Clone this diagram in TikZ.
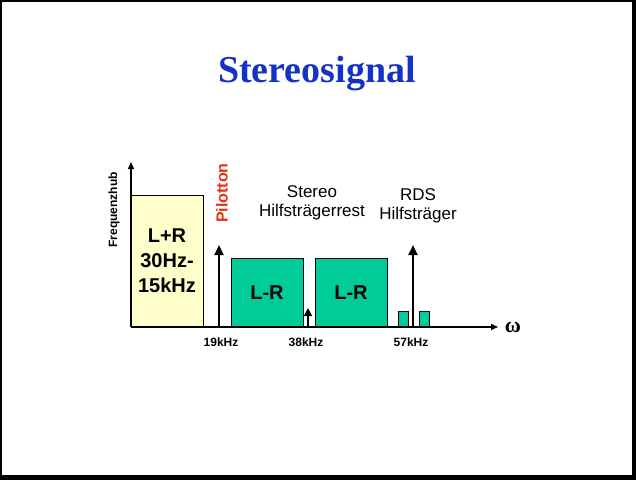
\documentclass[tikz,border=0pt]{standalone}
\usepackage{fontspec}
\setmainfont{Liberation Sans}
\newfontfamily\titleserif{Liberation Serif}
\usetikzlibrary{arrows.meta}
\definecolor{titleblue}{RGB}{20,50,200}
\definecolor{diffgreen}{RGB}{0,204,153}
\definecolor{sumyellow}{RGB}{255,255,204}
\definecolor{pilotred}{RGB}{230,50,20}
\tikzstyle{band}=[rectangle, draw=black, line width=1pt, inner sep=0pt, align=center, font=\fontsize{20}{25}\selectfont\bfseries]
\tikzstyle{axis}=[draw=black, line width=1.5pt, -{Triangle[length=7pt,width=6pt]}]
\tikzstyle{carrier}=[draw=black, line width=2pt, -{Triangle[length=10pt,width=9pt]}]
\tikzstyle{freq}=[inner sep=0pt, font=\fontsize{12}{12}\selectfont\bfseries]
\tikzstyle{note}=[inner sep=0pt, align=center, font=\fontsize{17}{19}\selectfont]

\begin{document}
\begin{tikzpicture}[x=1pt, y=-1pt]
	   \useasboundingbox (0,0) rectangle (636,480);
	   \fill [black] (0,0) rectangle (636,480);
	   \fill [white] (1.5,1.5) rectangle (632,475);

	   \node (title) at (317,82)[anchor=base, inner sep=0pt, text=titleblue, font=\titleserif\fontsize{38}{38}\selectfont\bfseries] {Stereosignal};

	   \begin{scope}
		   \node (sum) at (167,261)[band, fill=sumyellow, minimum width=72pt, minimum height=132pt] {L+R\\30Hz-\\15kHz};
		   \node (lr1) at (267,292.5)[band, fill=diffgreen, minimum width=72pt, minimum height=69pt] {L-R};
		   \node (lr2) at (351,292.5)[band, fill=diffgreen, minimum width=72pt, minimum height=69pt] {L-R};
		   \node (rds1) at (403,319)[band, fill=diffgreen, minimum width=10pt, minimum height=16pt] {};
		   \node (rds2) at (424,319)[band, fill=diffgreen, minimum width=10pt, minimum height=16pt] {};
	   \end{scope}

	   \begin{scope}
		   \coordinate (o) at (131,327);
		   \coordinate (ytop) at (131,162);
		   \coordinate (xend) at (498,327);
		   \coordinate (f19) at (219,327);
		   \coordinate (f19top) at (219,245);
		   \coordinate (f38) at (308,327);
		   \coordinate (f38top) at (308,308);
		   \coordinate (f57) at (413,327);
		   \coordinate (f57top) at (413,245);
	   \end{scope}

	   \begin{scope}
		   \draw [axis] (o) -- (ytop);
		   \draw [axis] (o) -- (xend);
		   \draw [carrier] (f19) -- (f19top);
		   \draw [carrier, line width=1.5pt, -{Triangle[length=8pt,width=8pt]}] (f38) -- (f38top);
		   \draw [carrier] (f57) -- (f57top);
	   \end{scope}

	   \node (omega) at (513,327)[inner sep=0pt, font=\titleserif\fontsize{22}{22}\selectfont\bfseries] {ω};
	   \node (hub) at (114,210)[rotate=90, inner sep=0pt, font=\fontsize{12}{12}\selectfont\bfseries] {Frequenzhub};
	   \node (pilot) at (222,193)[rotate=90, inner sep=0pt, text=pilotred, font=\fontsize{16}{16}\selectfont\bfseries] {Pilotton};

	   \node (k19) at (221,342)[freq] {19kHz};
	   \node (k38) at (306,342)[freq] {38kHz};
	   \node (k57) at (411,342)[freq] {57kHz};

	   \node (rest) at (312,203)[note] {Stereo\\Hilfsträgerrest};
	   \node (rds) at (418,206)[note] {RDS\\Hilfsträger};
\end{tikzpicture}
\end{document}
